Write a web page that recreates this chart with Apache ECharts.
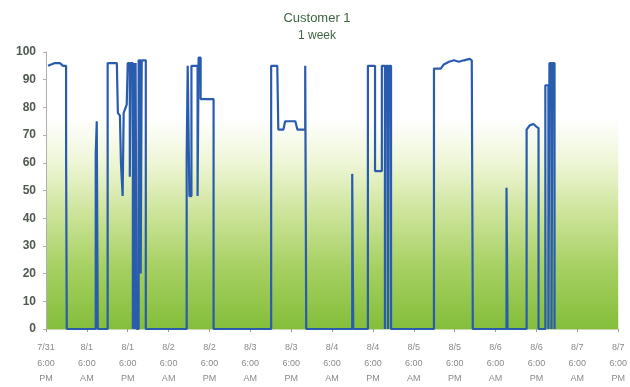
<!DOCTYPE html>
<html>
<head>
<meta charset="utf-8">
<script src="https://cdn.jsdelivr.net/npm/echarts@6/dist/echarts.min.js"></script>
<style>html,body{margin:0;padding:0;background:#fff}#c{width:630px;height:387px}</style>
</head>
<body>
<div id="c"></div>
<script>
// hours since 7/31 6:00 PM
var hours = [0.6,2.6,4.1,5.0,5.9,5.9,6.1,6.1,14.6,14.6,14.9,15.2,15.2,18.1,18.1,20.8,21.1,21.7,22.0,22.5,22.8,23.7,24.0,24.6,24.6,24.9,24.9,25.5,25.5,25.8,25.8,26.0,26.0,26.3,26.3,26.6,26.6,27.2,27.2,27.8,27.8,28.1,29.3,29.3,
  41.3,41.3,41.6,42.1,42.1,42.7,42.7,44.5,44.5,44.8,44.8,45.4,45.4,49.2,49.2,
  66.1,66.1,67.9,68.2,69.7,70.2,73.2,73.8,76.1,76.1,76.4,76.4,
  89.9,89.9,90.2,90.2,
  94.5,94.5,96.6,96.6,98.6,98.6,99.5,99.5,99.8,99.8,100.4,100.4,100.7,100.7,101.3,101.3,
  113.9,113.9,115.9,116.8,118.3,119.8,121.2,122.7,124.4,125.0,125.3,
  135.2,135.2,135.5,135.5,
  141.1,141.1,142.0,143.1,144.0,144.6,144.6,
  146.6,146.6,147.5,147.5,147.8,147.8,148.4,148.4,148.7,148.7,149.3,149.3];
var load = [95,96,96,95,95,63,63,0,0,63,75,75,0,0,96,96,78,77,60,48,78,81,96,96,55,55,96,96,0,0,96,96,0,0,96,96,0,0,97,97,20,97,97,0,
  0,62,95,95,48,48,95,95,48,48,98,98,83,83,0,
  0,95,95,72,72,75,75,72,72,95,95,0,
  0,56,56,0,
  0,95,95,57,57,95,95,0,0,95,95,0,0,95,95,0,
  0,94,94,95.5,96.5,97,96.5,97,97.5,97,0,
  0,51,51,0,
  0,72,73.5,74,73,72.5,0,
  0,88,88,0,0,96,96,0,0,96,96,0];
var xTickLabels = ["7/31\n6:00\nPM","8/1\n6:00\nAM","8/1\n6:00\nPM","8/2\n6:00\nAM","8/2\n6:00\nPM","8/3\n6:00\nAM","8/3\n6:00\nPM","8/4\n6:00\nAM","8/4\n6:00\nPM","8/5\n6:00\nAM","8/5\n6:00\nPM","8/6\n6:00\nAM","8/6\n6:00\nPM","8/7\n6:00\nAM","8/7\n6:00\nPM"];
var titleLines = ["Customer 1", "1 week"];

var chart = echarts.init(document.getElementById('c'), null, {renderer: 'canvas'});
var pts = hours.map(function(h, i){ return [h, load[i]]; });
chart.setOption({
  animation: false,
  title: {
    text: titleLines[0], subtext: titleLines[1],
    left: 312, top: 7, textAlign: 'center', itemGap: 5,
    textStyle: {fontFamily: 'Liberation Sans, Arial', fontSize: 13, fontWeight: 'normal', color: '#3f6444'},
    subtextStyle: {fontFamily: 'Liberation Sans, Arial', fontSize: 12, fontWeight: 'normal', color: '#3f6444'}
  },
  grid: {
    left: 46, right: 10, top: 52, bottom: 58, show: true, borderWidth: 0,
    backgroundColor: {type: 'linear', x: 0, y: 0, x2: 0, y2: 1, colorStops: [
      {offset: 0, color: '#ffffff'}, {offset: 0.24, color: '#ffffff'},
      {offset: 0.4, color: '#eef6d6'}, {offset: 0.58, color: '#cde49a'},
      {offset: 0.78, color: '#a6d062'}, {offset: 1, color: '#84be3a'}]}
  },
  xAxis: {
    type: 'value', min: 0, max: 168, interval: 12,
    axisLine: {show: true, lineStyle: {color: '#c8d8b0', width: 1}},
    axisTick: {show: true, length: 3, lineStyle: {color: '#999'}},
    splitLine: {show: false},
    axisLabel: {
      margin: 11, fontFamily: 'Liberation Sans, Arial', fontSize: 9, color: '#8a8a8a', lineHeight: 15.5,
      formatter: function(v){ return xTickLabels[Math.round(v / 12)] || ''; }
    }
  },
  yAxis: {
    type: 'value', min: 0, max: 100, interval: 10,
    axisLine: {show: true, lineStyle: {color: '#b0b0b0', width: 1}},
    axisTick: {show: true, length: 3, lineStyle: {color: '#b0b0b0'}},
    splitLine: {show: false},
    axisLabel: {margin: 10, fontFamily: 'Liberation Sans, Arial', fontSize: 12, fontWeight: 'bold', color: '#4f5a4f'}
  },
  series: [{
    type: 'line', data: pts, showSymbol: false, symbol: 'none',
    lineStyle: {color: '#2a5cad', width: 2.2}, itemStyle: {color: '#2a5cad'}
  }]
});
</script>
</body>
</html>
